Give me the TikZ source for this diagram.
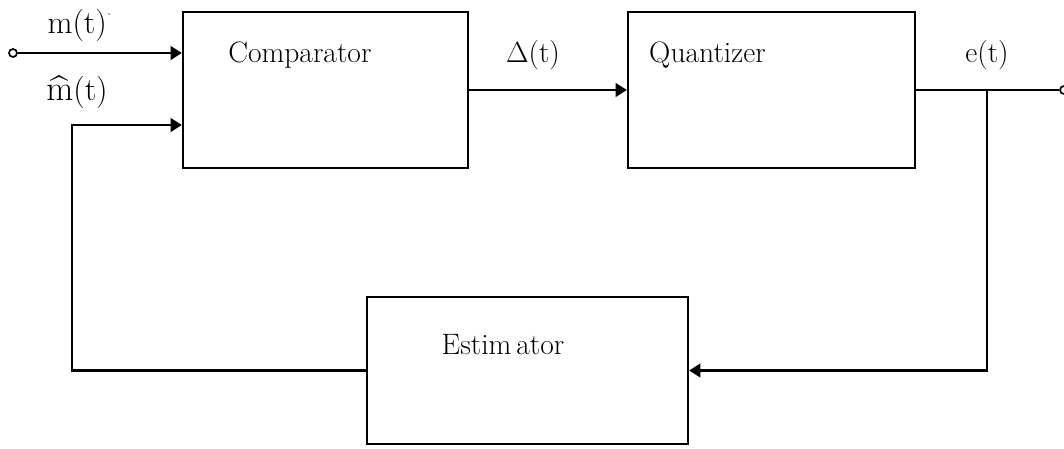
\documentclass[tikz,border=0pt]{standalone}
\usepackage{amsmath,amssymb}
\usepackage{tikz}
\usetikzlibrary{arrows.meta}

\begin{document}
\begin{tikzpicture}[x=0.025cm,y=-0.025cm,font=\fontsize{21}{25}\selectfont,
    line width=1.6pt,>={Triangle[length=0.28cm,width=0.34cm]},
    blockbox/.style={draw,inner sep=0pt},
    siglabel/.style={inner sep=1pt,font=\fontsize{23}{27}\selectfont},
    terminal/.style={draw,circle,line width=1.2pt,inner sep=0pt,minimum size=0.2cm}]
  \useasboundingbox (0,0) rectangle (1064,448);
  % blocks
  \node[blockbox,minimum width=7.125cm,minimum height=3.9cm,
        label={[xshift=-0.64cm,yshift=0.875cm]center:Comparator}] (comp) at (325.5,90) {};
  \node[blockbox,minimum width=7.175cm,minimum height=3.9cm,
        label={[xshift=-1.6cm,yshift=0.875cm]center:Quantizer}] (quant) at (771.5,90) {};
  \node[blockbox,minimum width=8.025cm,minimum height=3.675cm,
        label={[xshift=-0.61cm,yshift=0.64cm]center:Estim\,ator}] (est) at (527.5,370.5) {};
  % terminals and bends
  \node[terminal] (in) at (13,53) {};
  \node[terminal] (out) at (1064,90) {};
  \coordinate (br) at (987,90);
  \coordinate (fb) at (72,125);
  % signal labels
  \node[siglabel] (mlab) at (80,25) {m(t)\raisebox{0.9ex}{\scriptsize\textasciigrave}};
  \node[siglabel] (mhatlab) at (77,92) {$\widehat{\mathrm{m}}$(t)};
  \node[siglabel,font=\fontsize{21}{25}\selectfont] (dlab) at (533,55) {$\Delta$(t)};
  \node[siglabel,font=\fontsize{21}{25}\selectfont] (elab) at (987,55) {e(t)};
  % connections
  \draw[->] (in) -- (in -| comp.west);
  \draw[->] (comp) -- (quant);
  \draw (quant.east) -- (out);
  \draw[->] (br) |- (est.east);
  \draw[->] (est.west) -| (fb) -- (fb -| comp.west);
\end{tikzpicture}
\end{document}
